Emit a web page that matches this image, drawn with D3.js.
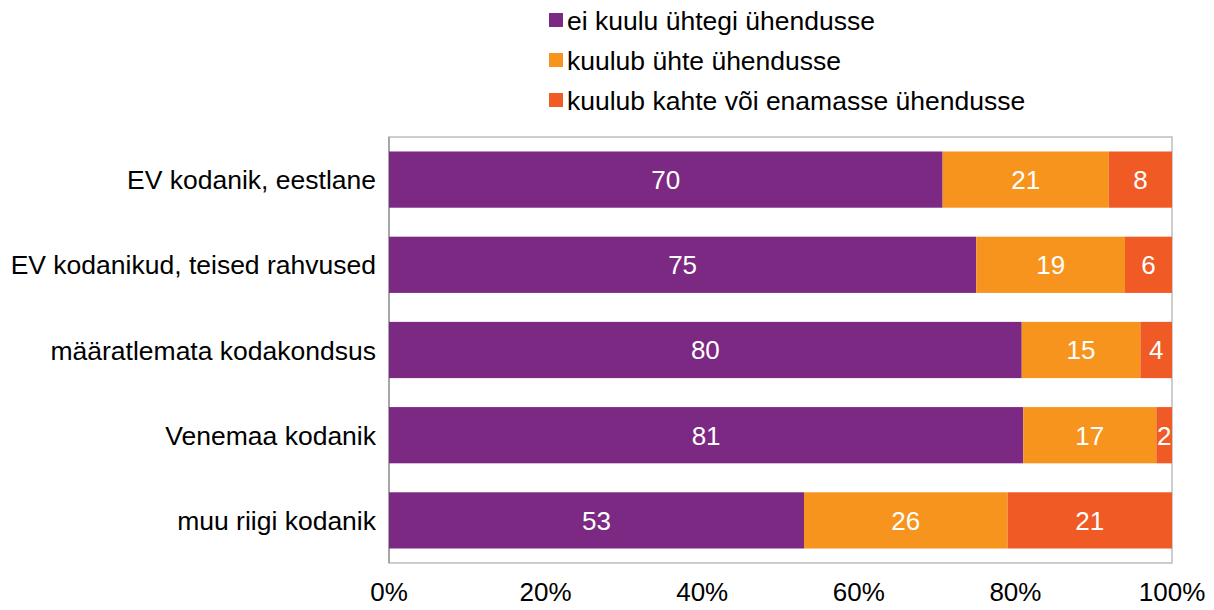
<!DOCTYPE html>
<html>
<head>
<meta charset="utf-8">
<script src="https://cdn.jsdelivr.net/npm/d3@7"></script>
<style>
  body { margin: 0; background: #fff; }
  text { font-family: "Liberation Sans", Arial, sans-serif; }
</style>
</head>
<body>
<svg id="chart" width="1214" height="610"></svg>
<script>
const categories = [
  "EV kodanik, eestlane",
  "EV kodanikud, teised rahvused",
  "määratlemata kodakondsus",
  "Venemaa kodanik",
  "muu riigi kodanik"
];
const seriesNames = [
  "ei kuulu ühtegi ühendusse",
  "kuulub ühte ühendusse",
  "kuulub kahte või enamasse ühendusse"
];
const noneValues = [70, 75, 80, 81, 53];
const oneValues = [21, 19, 15, 17, 26];
const twoValues = [8, 6, 4, 2, 21];
const tickValues = [0, 0.2, 0.4, 0.6, 0.8, 1];
const colors = ["#7b2982", "#f7941e", "#f05a24"];

const rows = categories.map((c, i) => ({
  cat: c, s0: noneValues[i], s1: oneValues[i], s2: twoValues[i]
}));
const keys = ["s0", "s1", "s2"];

const margin = { top: 137, left: 389, right: 42, bottom: 47 };
const width = 1214, height = 610;
const innerW = width - margin.left - margin.right;
const innerH = height - margin.top - margin.bottom;

const svg = d3.select("#chart");
const g = svg.append("g").attr("transform", `translate(${margin.left},${margin.top})`);

const x = d3.scaleLinear().domain([0, 1]).range([0, innerW]);
const y = d3.scaleBand().domain(categories).range([0, innerH]).paddingInner(0.34).paddingOuter(0.17);

const stacked = d3.stack().keys(keys).offset(d3.stackOffsetExpand)(rows);

// plot frame
g.append("rect")
  .attr("x", 0).attr("y", 0)
  .attr("width", innerW).attr("height", innerH)
  .attr("fill", "none").attr("stroke", "#bdbdbd").attr("stroke-width", 1.5);
g.append("line")
  .attr("x1", 0).attr("x2", 0).attr("y1", 0).attr("y2", innerH)
  .attr("stroke", "#999").attr("stroke-width", 1.5);

// bars
const layers = g.selectAll(".layer")
  .data(stacked)
  .enter()
  .append("g")
  .attr("class", "layer")
  .attr("fill", (d, i) => colors[i]);

layers.selectAll("rect")
  .data((d) => d)
  .enter()
  .append("rect")
  .attr("x", (d) => x(d[0]))
  .attr("y", (d) => y(d.data.cat))
  .attr("width", (d) => x(d[1]) - x(d[0]))
  .attr("height", y.bandwidth());

layers.selectAll("text")
  .data((d) => d.map((p) => ({ p, key: d.key })))
  .enter()
  .append("text")
  .attr("x", (d) => (x(d.p[0]) + x(d.p[1])) / 2)
  .attr("y", (d) => y(d.p.data.cat) + y.bandwidth() / 2)
  .attr("dy", "0.36em")
  .attr("text-anchor", "middle")
  .attr("fill", "#fff")
  .style("font-size", "26px")
  .text((d) => d.p.data[d.key]);

// category labels
g.selectAll(".cat")
  .data(categories)
  .enter()
  .append("text")
  .attr("class", "cat")
  .attr("x", -13)
  .attr("y", (d) => y(d) + y.bandwidth() / 2)
  .attr("dy", "0.36em")
  .attr("text-anchor", "end")
  .attr("fill", "#000")
  .style("font-size", "26.5px")
  .text((d) => d);

// x axis labels
g.selectAll(".tick-label")
  .data(tickValues)
  .enter()
  .append("text")
  .attr("class", "tick-label")
  .attr("x", (d) => x(d))
  .attr("y", innerH + 38)
  .attr("text-anchor", "middle")
  .attr("fill", "#000")
  .style("font-size", "26px")
  .text(d3.format(".0%"));

// legend
const legend = svg.append("g").attr("transform", "translate(549,0)");
const items = legend.selectAll("g")
  .data(seriesNames)
  .enter()
  .append("g")
  .attr("transform", (d, i) => `translate(0,${20 + i * 40})`);
items.append("rect")
  .attr("x", 0).attr("y", -7)
  .attr("width", 14).attr("height", 14)
  .attr("fill", (d, i) => colors[i]);
items.append("text")
  .attr("x", 18).attr("y", 0)
  .attr("dy", "0.36em")
  .attr("fill", "#000")
  .style("font-size", "26.5px")
  .text((d) => d);
</script>
</body>
</html>
